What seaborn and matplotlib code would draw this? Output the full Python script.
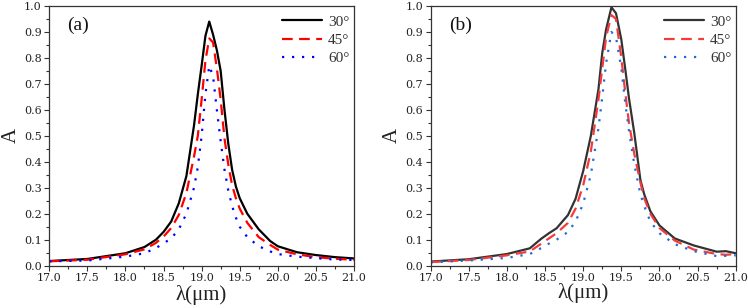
import matplotlib
matplotlib.use("Agg")
import matplotlib.pyplot as plt
import seaborn as sns
import pandas as pd
from matplotlib.ticker import MultipleLocator, FormatStrFormatter

# ---------------- data ----------------
angles = ["30°", "45°", "60°"]

xa = [17.0, 17.5, 18.0, 18.25, 18.4, 18.5, 18.6, 18.7, 18.8, 18.9, 18.95, 19.0, 19.05,
      19.1, 19.15, 19.2, 19.25, 19.3, 19.35, 19.4, 19.45, 19.5, 19.6, 19.75, 19.9, 20.0,
      20.25, 20.5, 20.75, 21.0]
a_30 = [0.018, 0.026, 0.048, 0.072, 0.10, 0.13, 0.17, 0.24, 0.345, 0.54, 0.66, 0.77, 0.885,
        0.94, 0.89, 0.83, 0.75, 0.60, 0.47, 0.37, 0.305, 0.26, 0.20, 0.14, 0.095, 0.075,
        0.052, 0.041, 0.033, 0.028]
a_45 = [0.017, 0.023, 0.044, 0.063, 0.088, 0.112, 0.145, 0.195, 0.28, 0.42, 0.50, 0.64, 0.79,
        0.875, 0.86, 0.76, 0.64, 0.49, 0.39, 0.31, 0.26, 0.22, 0.165, 0.11, 0.08, 0.062,
        0.044, 0.033, 0.027, 0.023]
a_60 = [0.017, 0.020, 0.035, 0.048, 0.068, 0.086, 0.105, 0.14, 0.20, 0.30, 0.38, 0.50, 0.66,
        0.77, 0.73, 0.60, 0.48, 0.37, 0.29, 0.23, 0.185, 0.15, 0.11, 0.075, 0.055, 0.045,
        0.035, 0.029, 0.024, 0.022]

xb = [17.0, 17.5, 18.0, 18.3, 18.45, 18.55, 18.65, 18.8, 18.9, 19.0, 19.1, 19.2,
      19.25, 19.3, 19.37, 19.43, 19.5, 19.55, 19.6, 19.67, 19.75, 19.8, 19.88, 20.0,
      20.2, 20.45, 20.75, 20.87, 21.0]
b_30 = [0.016, 0.025, 0.045, 0.067, 0.104, 0.125, 0.144, 0.195, 0.258, 0.365, 0.50, 0.68,
        0.82, 0.91, 0.995, 0.972, 0.87, 0.76, 0.645, 0.51, 0.33, 0.275, 0.21, 0.155,
        0.105, 0.078, 0.054, 0.056, 0.048]
b_45 = [0.014, 0.022, 0.040, 0.055, 0.085, 0.105, 0.125, 0.165, 0.22, 0.31, 0.44, 0.64,
        0.76, 0.88, 0.965, 0.95, 0.80, 0.67, 0.55, 0.43, 0.32, 0.26, 0.20, 0.145,
        0.097, 0.062, 0.045, 0.042, 0.045]
b_60 = [0.013, 0.020, 0.030, 0.045, 0.068, 0.085, 0.10, 0.13, 0.17, 0.24, 0.35, 0.53,
        0.65, 0.78, 0.90, 0.88, 0.76, 0.63, 0.52, 0.39, 0.275, 0.23, 0.17, 0.125,
        0.083, 0.056, 0.037, 0.038, 0.040]

panel_labels = ["(a)", "(b)"]
xticks = [17.0, 17.5, 18.0, 18.5, 19.0, 19.5, 20.0, 20.5, 21.0]
yticks = [0.0, 0.1, 0.2, 0.3, 0.4, 0.5, 0.6, 0.7, 0.8, 0.9, 1.0]

# ---------------- style ----------------
sns.set_theme(style="white")
plt.rcParams["font.family"] = ["Liberation Serif", "DejaVu Serif"]

fig = plt.figure(figsize=(7.48, 3.08), dpi=100)
ax_a = fig.add_axes([0.0659, 0.1373, 0.4073, 0.8432])
ax_b = fig.add_axes([0.5758, 0.1373, 0.4078, 0.8432])

styles_a = [dict(color="#000000", dashes=None),
            dict(color="#ff0000", dashes=(4.8, 2.9)),
            dict(color="#0000ff", dashes=(1.0, 3.5))]
styles_b = [dict(color="#333333", dashes=None),
            dict(color="#f23c3c", dashes=(4.8, 2.9)),
            dict(color="#1e6ad8", dashes=(1.0, 3.5))]

panels = [(ax_a, xa, [a_30, a_45, a_60], styles_a, panel_labels[0], -0.074, -0.092),
          (ax_b, xb, [b_30, b_45, b_60], styles_b, panel_labels[1], -0.068, -0.094)]

for ax, xs, ys, sty, plab, xlab_y, ylab_x in panels:
    for name, yv, st in zip(angles, ys, sty):
        df = pd.DataFrame({"x": xs, "A": yv})
        sns.lineplot(data=df, x="x", y="A", ax=ax, color=st["color"], lw=1.6,
                     label=name, estimator=None, sort=False)
        if st["dashes"] is not None:
            ax.lines[-1].set_dashes(st["dashes"])
    ax.set_xlim(17.0, 21.0)
    ax.set_ylim(0.0, 1.0)
    ax.set_xticks(xticks)
    ax.set_yticks(yticks)
    ax.xaxis.set_minor_locator(MultipleLocator(0.25))
    ax.yaxis.set_minor_locator(MultipleLocator(0.05))
    ax.xaxis.set_major_formatter(FormatStrFormatter("%.1f"))
    ax.yaxis.set_major_formatter(FormatStrFormatter("%.1f"))
    ax.tick_params(axis="both", which="major", direction="out", length=3.5, width=0.8,
                   color="#333333", labelsize=8, pad=2, labelcolor="#222222",
                   bottom=True, left=True, top=False, right=False)
    ax.tick_params(axis="both", which="minor", direction="out", length=2, width=0.8,
                   color="#333333", bottom=True, left=True, top=False, right=False)
    for lab in ax.get_xticklabels() + ax.get_yticklabels():
        lab.set_family(["DejaVu Serif"])
    for sp in ax.spines.values():
        sp.set_color("#333333")
        sp.set_linewidth(0.9)
    ax.set_xlabel("λ(μm)", fontsize=15, color="#222222")
    ax.set_ylabel("A", fontsize=15, color="#222222")
    ax.xaxis.set_label_coords(0.5, xlab_y)
    ax.yaxis.set_label_coords(ylab_x, 0.5)
    ax.text(0.06, 0.925, plab, transform=ax.transAxes, fontsize=14,
            va="center", ha="left", color="#111111")
    leg = ax.legend(loc="upper left", bbox_to_anchor=(0.765, 0.965), frameon=False,
                    fontsize=11, handlelength=2.6, handletextpad=0.4,
                    labelspacing=0.3, borderpad=0, borderaxespad=0)
    for t in leg.get_texts():
        t.set_color("#333333")

fig.savefig("out.png", dpi=100)
